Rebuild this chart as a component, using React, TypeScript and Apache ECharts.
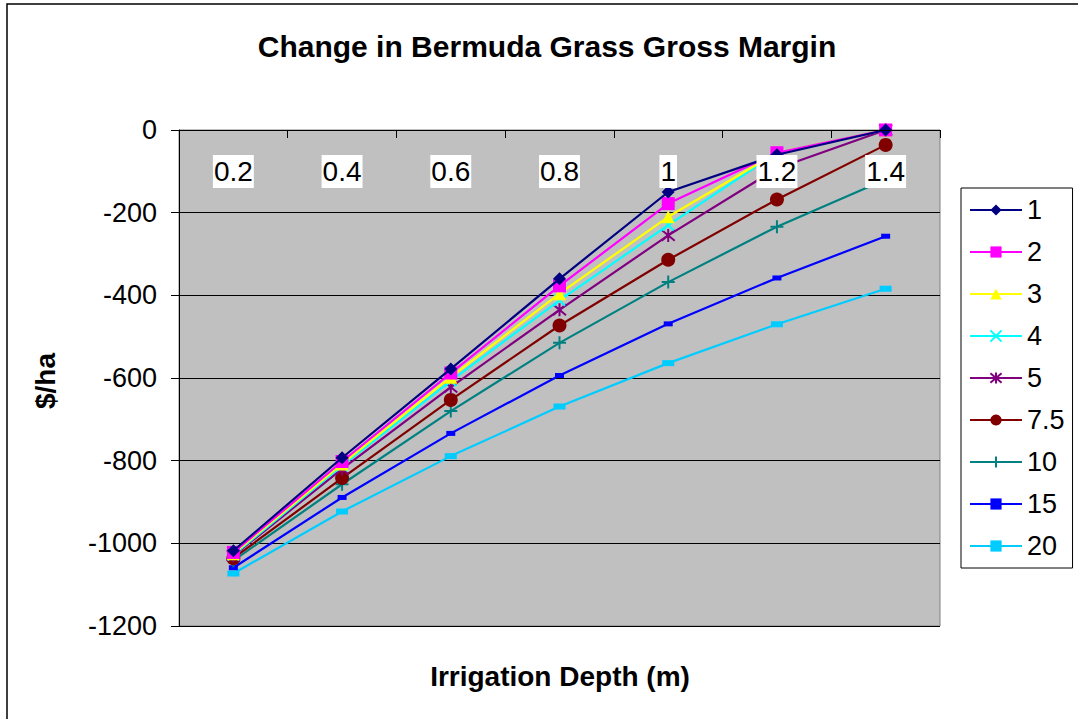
import React, { useEffect, useRef } from "react";
import * as echarts from "echarts";

const categories = ["0.2", "0.4", "0.6", "0.8", "1", "1.2", "1.4"];
const seriesNames = ["1", "2", "3", "4", "5", "7.5", "10", "15", "20"];
const s1 = [-1018, -793, -578, -360, -150, -60, 0];
const s2 = [-1022, -802, -588, -377, -178, -55, 0];
const s3 = [-1025, -808, -598, -396, -210, -55, 0];
const s4 = [-1028, -812, -607, -412, -230, -55, 0];
const s5 = [-1030, -820, -622, -435, -255, -93, 0];
const s75 = [-1036, -842, -653, -473, -314, -168, -36];
const s10 = [-1042, -857, -680, -515, -368, -234, -120];
const s15 = [-1059, -889, -734, -594, -469, -358, -257];
const s20 = [-1073, -923, -789, -669, -564, -470, -384];
const seriesValues = [s1, s2, s3, s4, s5, s75, s10, s15, s20];

const FONT = "'Liberation Sans', Arial, sans-serif";

const styles: any[] = [
  { color: "#000080", symbol: "diamond", size: 13 },
  { color: "#FF00FF", symbol: "rect", size: 13 },
  { color: "#FFFF00", symbol: "triangle", size: 13 },
  { color: "#00FFFF", symbol: "path://M0,0L10,10M10,0L0,10", size: 11, stroke: true },
  { color: "#800080", symbol: "path://M0,0L10,10M10,0L0,10M5,-1L5,11", size: 13, stroke: true },
  { color: "#800000", symbol: "circle", size: 14 },
  { color: "#008080", symbol: "path://M5,0L5,10M0,5L10,5", size: 13, stroke: true },
  { color: "#0000FF", symbol: "rect", size: [9, 5] },
  { color: "#00CCFF", symbol: "rect", size: [12, 6] },
];

export default function App() {
  const ref = useRef<HTMLDivElement>(null);
  useEffect(() => {
    if (!ref.current) return;
    const chart = echarts.init(ref.current, undefined, { renderer: "svg" });
    const series = seriesNames.map((name, i) => {
      const st = styles[i];
      return {
        name,
        type: "line",
        data: seriesValues[i],
        symbol: st.symbol,
        symbolSize: st.size,
        showAllSymbol: true,
        lineStyle: { color: st.color, width: 2.2 },
        itemStyle: st.stroke
          ? { color: st.color, borderColor: st.color, borderWidth: 2 }
          : { color: st.color, borderWidth: 0 },
        z: 2 + (9 - i) * 0.01,
      };
    });
    chart.setOption({
      animation: false,
      backgroundColor: "#FFFFFF",
      textStyle: { fontFamily: FONT },
      grid: {
        left: 179,
        top: 130,
        right: 138,
        bottom: 93,
        show: true,
        backgroundColor: "#C0C0C0",
        borderColor: "#808080",
        borderWidth: 1,
      },
      legend: {
        orient: "vertical",
        left: 961,
        top: 188,
        padding: [7, 8, 7, 8],
        itemWidth: 52,
        itemHeight: 14,
        itemGap: 12,
        backgroundColor: "#FFFFFF",
        borderColor: "#000000",
        borderWidth: 1,
        borderRadius: 0,
        textStyle: { fontSize: 27, color: "#000", fontFamily: FONT, lineHeight: 30 },
        data: seriesNames,
      },
      xAxis: {
        type: "category",
        data: categories,
        position: "top",
        boundaryGap: true,
        z: 10,
        axisLine: { show: true, onZero: false, lineStyle: { color: "#000", width: 1 } },
        axisTick: { show: true, inside: true, length: 8, lineStyle: { color: "#000" } },
        axisLabel: {
          inside: true,
          margin: 25,
          fontSize: 28,
          color: "#000",
          fontFamily: FONT,
          backgroundColor: "#FFFFFF",
          padding: [1, 1, 1, 1],
          lineHeight: 31,
        },
        splitLine: { show: false },
      },
      yAxis: {
        type: "value",
        min: -1200,
        max: 0,
        interval: 200,
        axisLine: { show: true, lineStyle: { color: "#000", width: 1 } },
        axisTick: { show: true, length: 8, lineStyle: { color: "#000" } },
        axisLabel: {
          margin: 22,
          fontSize: 27,
          color: "#000",
          fontFamily: FONT,
          formatter: (v: number) => String(v),
        },
        splitLine: { show: true, lineStyle: { color: "#000", width: 1 } },
      },
      graphic: [
        {
          type: "rect",
          z: -10,
          silent: true,
          shape: { x: 7, y: 4, width: 1100, height: 800 },
          style: { fill: "none", stroke: "#000", lineWidth: 1.5 },
        },
        {
          type: "text",
          x: 547,
          y: 46,
          style: {
            text: "Change in Bermuda Grass Gross Margin",
            font: `bold 30px ${FONT}`,
            fill: "#000",
            textAlign: "center",
            textVerticalAlign: "middle",
          },
        },
        {
          type: "text",
          x: 560,
          y: 676,
          style: {
            text: "Irrigation Depth (m)",
            font: `bold 28px ${FONT}`,
            fill: "#000",
            textAlign: "center",
            textVerticalAlign: "middle",
          },
        },
        {
          type: "text",
          x: 45,
          y: 381,
          rotation: Math.PI / 2,
          style: {
            text: "$/ha",
            font: `bold 28px ${FONT}`,
            fill: "#000",
            textAlign: "center",
            textVerticalAlign: "middle",
          },
        },
      ],
      series,
    });
    return () => chart.dispose();
  }, []);
  return (
    <div
      ref={ref}
      style={{ position: "fixed", left: 0, top: 0, width: 1078, height: 719 }}
    />
  );
}
